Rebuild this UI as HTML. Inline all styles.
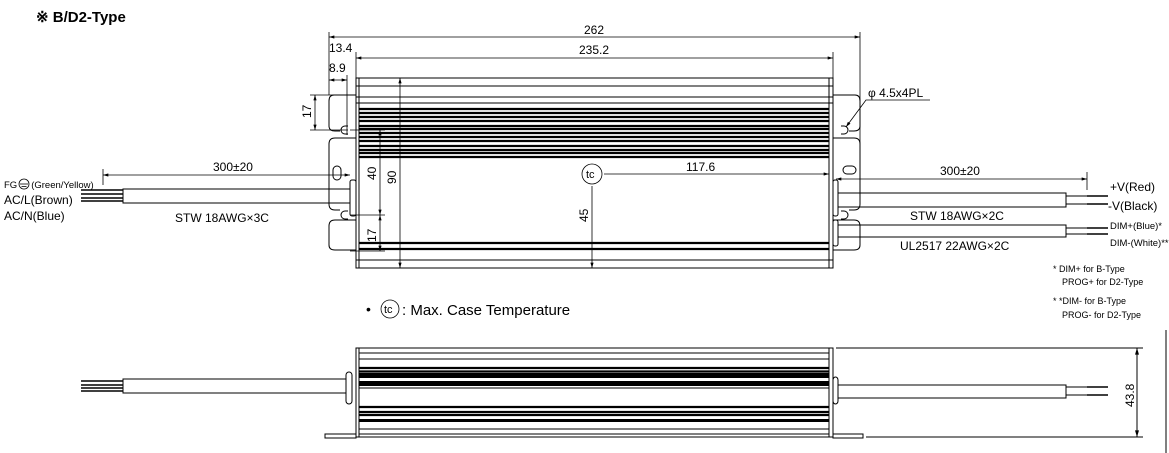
<!DOCTYPE html>
<html><head><meta charset="utf-8"><style>
html,body{margin:0;padding:0;background:#fff;}
svg{display:block;font-family:"Liberation Sans",sans-serif;}
</style></head><body>
<svg width="1169" height="453" viewBox="0 0 1169 453" xmlns="http://www.w3.org/2000/svg">
<defs>
<marker id="a" viewBox="0 0 10 6" refX="10" refY="3" markerWidth="8" markerHeight="4" orient="auto-start-reverse"><path d="M0,0L10,3L0,6z" fill="#000"/></marker>
</defs>
<text x="36" y="22" font-size="15" font-weight="bold">※ B/D2-Type</text>

<g fill="none" stroke="#000" stroke-width="1">
<!-- TOP VIEW body -->
<rect x="356" y="78" width="477" height="190"/>
<line x1="359" y1="78" x2="359" y2="268"/>
<line x1="829" y1="78" x2="829" y2="268"/>
<line x1="356" y1="86" x2="833" y2="86"/>
<line x1="356" y1="97" x2="833" y2="97"/>
<line x1="356" y1="103" x2="833" y2="103"/>
<line x1="356" y1="260" x2="833" y2="260"/>
</g>
<g stroke="#000" stroke-width="2.2">
<line x1="359" y1="109" x2="829" y2="109"/><line x1="359" y1="113" x2="829" y2="113"/>
<line x1="359" y1="117" x2="829" y2="117"/><line x1="359" y1="121" x2="829" y2="121"/>
<line x1="359" y1="126" x2="829" y2="126"/><line x1="359" y1="129" x2="829" y2="129"/>
<line x1="359" y1="133" x2="829" y2="133"/><line x1="359" y1="137" x2="829" y2="137"/>
<line x1="359" y1="141" x2="829" y2="141"/><line x1="359" y1="146" x2="829" y2="146"/>
<line x1="359" y1="150" x2="829" y2="150"/><line x1="359" y1="153" x2="829" y2="153"/>
<line x1="359" y1="157" x2="829" y2="157"/>
<line x1="359" y1="243" x2="829" y2="243"/><line x1="359" y1="249" x2="829" y2="249"/>
</g>
<g fill="none" stroke="#000" stroke-width="1">
<!-- left flange -->
<path d="M356,95 H334 Q329,95 329,101 V126 Q329,131 335,131 H340 M356,138 H335 Q329,138 329,144 V204 Q329,210 335,210 H340 M356,220 H335 Q329,220 329,226 V245 Q329,250 335,250 H356"/>
<path d="M348,126 H345 A4,4 0 0 0 345,134 H348 M348,211 H345 A4,4 0 0 0 345,219 H348"/>
<rect x="333" y="166" width="8" height="14" rx="4"/>
<rect x="350" y="180" width="6" height="36" rx="2"/>
<!-- right flange -->
<path d="M833,95 H855 Q860,95 860,101 V126 Q860,131 854,131 H849 M833,138 H854 Q860,138 860,144 V204 Q860,210 854,210 H849 M833,220 H854 Q860,220 860,226 V245 Q860,250 854,250 H833"/>
<path d="M841,126 H844 A4,4 0 0 1 844,134 H841 M841,211 H844 A4,4 0 0 1 844,219 H841"/>
<rect x="843" y="166" width="13" height="8" rx="4"/>
<rect x="833" y="180" width="5" height="36" rx="2"/>
<rect x="833" y="220" width="5" height="26" rx="2"/>
<!-- left cable -->
<rect x="123" y="189" width="227" height="14"/>
<!-- right cables -->
<rect x="838" y="193" width="228" height="14"/>
<rect x="838" y="225" width="228" height="12"/>
<line x1="1066" y1="196" x2="1108" y2="196"/><line x1="1066" y1="204" x2="1108" y2="204"/>
<line x1="1066" y1="228" x2="1108" y2="228"/><line x1="1066" y1="234" x2="1108" y2="234"/>
</g>
<g stroke="#000" stroke-width="1.6">
<line x1="81" y1="190" x2="123" y2="190"/><line x1="81" y1="194" x2="123" y2="194"/>
<line x1="81" y1="198" x2="123" y2="198"/><line x1="81" y1="201" x2="123" y2="201"/>
<line x1="1087" y1="196" x2="1108" y2="196"/><line x1="1087" y1="204" x2="1108" y2="204"/>
<line x1="1087" y1="228" x2="1108" y2="228"/><line x1="1087" y1="234" x2="1108" y2="234"/>
</g>

<!-- dims top view -->
<g fill="none" stroke="#000" stroke-width="0.8">
<line x1="329" y1="32" x2="329" y2="95"/>
<line x1="860" y1="32" x2="860" y2="95"/>
<line x1="329" y1="37" x2="860" y2="37" marker-start="url(#a)" marker-end="url(#a)"/>
<line x1="356" y1="52" x2="356" y2="78"/>
<line x1="833" y1="52" x2="833" y2="78"/>
<line x1="356" y1="58" x2="833" y2="58" marker-start="url(#a)" marker-end="url(#a)"/>
<line x1="347" y1="75" x2="347" y2="135"/>
<line x1="329" y1="80" x2="347" y2="80" marker-start="url(#a)" marker-end="url(#a)"/>
<line x1="310" y1="95" x2="334" y2="95"/>
<line x1="310" y1="130" x2="348" y2="130"/>
<line x1="315" y1="95" x2="315" y2="130" marker-start="url(#a)" marker-end="url(#a)"/>
<line x1="350" y1="130" x2="385" y2="130"/>
<line x1="350" y1="215" x2="385" y2="215"/>
<line x1="350" y1="251" x2="385" y2="251"/>
<line x1="380" y1="130" x2="380" y2="215" marker-start="url(#a)" marker-end="url(#a)"/>
<line x1="380" y1="215" x2="380" y2="251" marker-start="url(#a)" marker-end="url(#a)"/>
<line x1="400" y1="78" x2="400" y2="268" marker-start="url(#a)" marker-end="url(#a)"/>
<circle cx="592" cy="174" r="10"/>
<line x1="604" y1="174" x2="829" y2="174" marker-end="url(#a)"/>
<line x1="592" y1="186" x2="592" y2="268" marker-end="url(#a)"/>
<line x1="103" y1="169" x2="103" y2="185"/>
<line x1="103" y1="175" x2="350" y2="175" marker-start="url(#a)" marker-end="url(#a)"/>
<line x1="860" y1="95" x2="860" y2="193"/>
<line x1="1087" y1="172" x2="1087" y2="190"/>
<line x1="836" y1="179" x2="1087" y2="179" marker-start="url(#a)" marker-end="url(#a)"/>
<path d="M930,100 H866 L846,127" marker-end="url(#a)"/>
<circle cx="390" cy="309" r="9"/>
</g>
<g font-size="12" fill="#000">
<text x="594" y="34" text-anchor="middle">262</text>
<text x="594" y="54" text-anchor="middle">235.2</text>
<text x="329" y="52">13.4</text>
<text x="329" y="72">8.9</text>
<text transform="translate(311,118) rotate(-90)">17</text>
<text transform="translate(376,180) rotate(-90)">40</text>
<text transform="translate(376,242) rotate(-90)">17</text>
<text transform="translate(396,184) rotate(-90)">90</text>
<text transform="translate(588,222) rotate(-90)">45</text>
<text x="586" y="178" font-size="11">tc</text>
<text x="686" y="171">117.6</text>
<text x="213" y="171">300±20</text>
<text x="940" y="175">300±20</text>
<text x="868" y="97">φ 4.5x4PL</text>
<text x="175" y="222">STW 18AWG×3C</text>
<text x="910" y="220">STW 18AWG×2C</text>
<text x="900" y="250">UL2517 22AWG×2C</text>
<text x="4" y="188" font-size="9.5">FG<tspan dx="14">(Green/Yellow)</tspan></text>
<text x="4" y="204">AC/L(Brown)</text>
<text x="4" y="220">AC/N(Blue)</text>
<text x="1110" y="191">+V(Red)</text>
<text x="1108" y="210">-V(Black)</text>
<text x="1110" y="229" font-size="9.5">DIM+(Blue)*</text>
<text x="1110" y="246" font-size="9.5">DIM-(White)**</text>
<text x="1053" y="272" font-size="9">* DIM+ for B-Type</text>
<text x="1062" y="285" font-size="9">PROG+ for D2-Type</text>
<text x="1053" y="304" font-size="9">* *DIM- for B-Type</text>
<text x="1062" y="318" font-size="9">PROG- for D2-Type</text>
<text x="366" y="314" font-size="14">•</text>
<text x="384" y="313" font-size="11">tc</text>
<text x="402" y="315" font-size="15">: Max. Case Temperature</text>
</g>
<g fill="none" stroke="#000" stroke-width="0.8">
<circle cx="24" cy="184" r="5"/>
<line x1="20" y1="184" x2="28" y2="184"/><line x1="21.5" y1="186.5" x2="26.5" y2="186.5"/>
</g>

<!-- BOTTOM VIEW -->
<g fill="none" stroke="#000" stroke-width="1">
<rect x="356" y="348" width="477" height="89"/>
<line x1="359" y1="348" x2="359" y2="437"/>
<line x1="829" y1="348" x2="829" y2="437"/>
<line x1="359" y1="353" x2="829" y2="353"/>
<line x1="359" y1="359" x2="829" y2="359"/>
<line x1="359" y1="388" x2="829" y2="388"/>
<line x1="359" y1="429" x2="829" y2="429"/>
<line x1="359" y1="434" x2="829" y2="434"/>
<rect x="325" y="434" width="31" height="4"/>
<rect x="833" y="434" width="30" height="4"/>
<rect x="346" y="372" width="6" height="32" rx="3"/>
<rect x="833" y="377" width="5" height="27" rx="3"/>
<rect x="123" y="379" width="223" height="14"/>
<rect x="838" y="385" width="228" height="13"/>
<line x1="1066" y1="387" x2="1108" y2="387"/><line x1="1066" y1="395" x2="1108" y2="395"/>
<line x1="836" y1="348" x2="1143" y2="348"/>
<line x1="866" y1="437" x2="1143" y2="437"/>
<line x1="1137" y1="348" x2="1137" y2="437" marker-start="url(#a)" marker-end="url(#a)"/>
<line x1="1166" y1="330" x2="1166" y2="453"/>
</g>
<g stroke="#000" stroke-width="2.2">
<line x1="359" y1="368" x2="829" y2="368"/><line x1="359" y1="371.5" x2="829" y2="371.5"/>
<rect x="359" y="373" width="470" height="5" fill="#000" stroke="none"/>
<rect x="359" y="381" width="470" height="5" fill="#000" stroke="none"/>
<line x1="359" y1="407" x2="829" y2="407"/><line x1="359" y1="412" x2="829" y2="412"/>
<line x1="359" y1="415" x2="829" y2="415"/>
<rect x="359" y="419" width="470" height="3" fill="#000" stroke="none"/>
</g>
<g stroke="#000" stroke-width="1.6">
<line x1="81" y1="381" x2="123" y2="381"/><line x1="81" y1="385" x2="123" y2="385"/>
<line x1="81" y1="388" x2="123" y2="388"/><line x1="81" y1="391" x2="123" y2="391"/>
<line x1="1087" y1="387" x2="1108" y2="387"/><line x1="1087" y1="395" x2="1108" y2="395"/>
</g>
<text transform="translate(1134,407) rotate(-90)" font-size="12">43.8</text>
</svg>
</body></html>
